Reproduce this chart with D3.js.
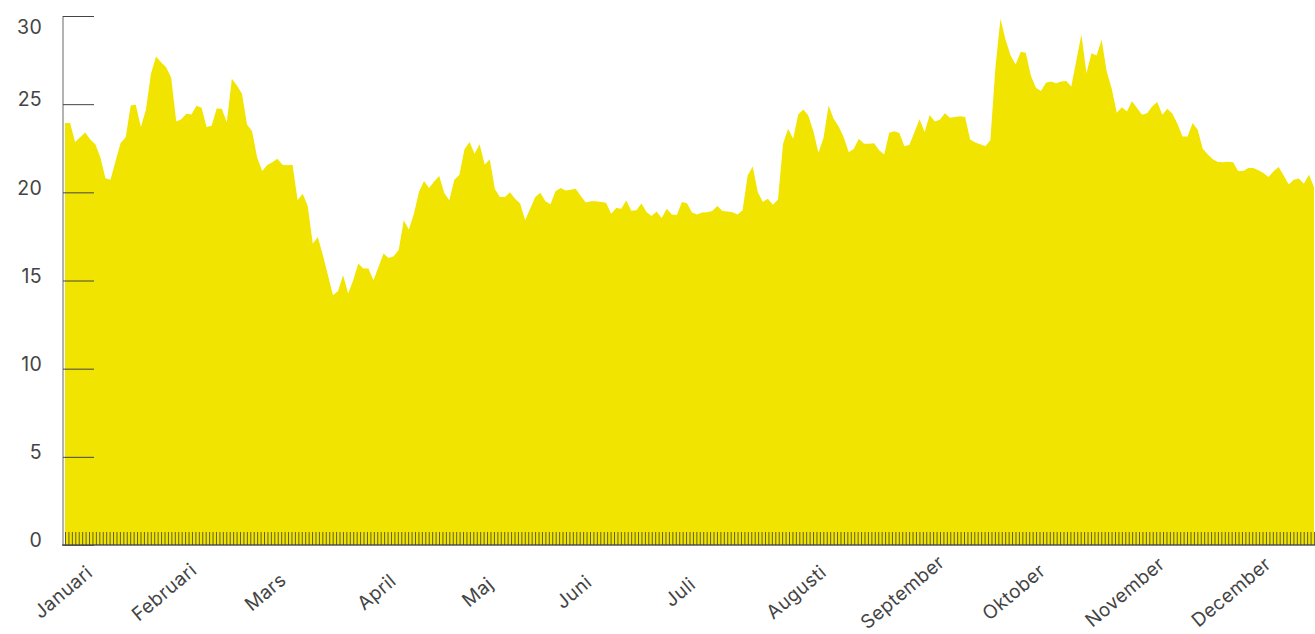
<!DOCTYPE html>
<html>
<head>
<meta charset="utf-8">
<script src="https://cdn.jsdelivr.net/npm/d3@7"></script>
<style>
    body { margin: 0; background: #fff; }
    svg text { font-family: Inter, "Noto Sans", sans-serif; fill: #444; }
</style>
</head>
<body>
<div id="chart"></div>
<script>

// one value per trading day
var values = [
    23.93, 23.93, 22.85, 23.13, 23.40, 23.00, 22.72, 21.97, 20.80, 20.72,
    21.77, 22.80, 23.13, 24.93, 24.97, 23.70, 24.68, 26.72, 27.70, 27.38,
    27.10, 26.50, 24.02, 24.15, 24.46, 24.42, 24.91, 24.80, 23.70, 23.78,
    24.76, 24.74, 23.98, 26.44, 26.06, 25.59, 23.85, 23.47, 21.97, 21.21,
    21.55, 21.70, 21.91, 21.57, 21.53, 21.57, 19.55, 19.92, 19.23, 17.09,
    17.47, 16.43, 15.30, 14.16, 14.41, 15.30, 14.26, 15.01, 15.96, 15.68,
    15.68, 15.01, 15.77, 16.53, 16.28, 16.37, 16.75, 18.41, 17.89, 18.79,
    20.02, 20.64, 20.25, 20.62, 20.92, 19.96, 19.55, 20.72, 21.00, 22.44,
    22.85, 22.19, 22.72, 21.57, 21.87, 20.21, 19.73, 19.73, 20.00, 19.64,
    19.36, 18.41, 19.08, 19.73, 19.98, 19.49, 19.32, 20.06, 20.25, 20.11,
    20.15, 20.21, 19.79, 19.43, 19.49, 19.49, 19.45, 19.41, 18.79, 19.11,
    19.07, 19.53, 18.96, 18.98, 19.36, 18.88, 18.66, 18.92, 18.54, 19.07,
    18.75, 18.71, 19.45, 19.38, 18.85, 18.74, 18.85, 18.87, 18.94, 19.23,
    18.94, 18.92, 18.87, 18.75, 18.98, 20.96, 21.47, 20.02, 19.45, 19.64,
    19.30, 19.60, 22.76, 23.61, 23.04, 24.42, 24.70, 24.36, 23.46, 22.25,
    23.08, 24.93, 24.17, 23.74, 23.13, 22.28, 22.47, 23.04, 22.76, 22.76,
    22.79, 22.38, 22.15, 23.38, 23.46, 23.36, 22.61, 22.70, 23.42, 24.14,
    23.42, 24.38, 24.02, 24.12, 24.49, 24.23, 24.27, 24.31, 24.27, 22.99,
    22.83, 22.72, 22.61, 22.95, 27.10, 29.84, 28.65, 27.76, 27.25, 27.97,
    27.91, 26.63, 25.93, 25.74, 26.22, 26.29, 26.19, 26.29, 26.31, 26.00,
    27.48, 28.95, 26.76, 27.89, 27.76, 28.65, 26.87, 25.87, 24.51, 24.83,
    24.59, 25.16, 24.78, 24.40, 24.49, 24.87, 25.12, 24.40, 24.74, 24.46,
    23.89, 23.17, 23.17, 23.93, 23.55, 22.47, 22.14, 21.87, 21.72, 21.70,
    21.74, 21.70, 21.21, 21.21, 21.38, 21.38, 21.25, 21.10, 20.87, 21.19,
    21.43, 20.96, 20.44, 20.72, 20.78, 20.49, 21.00, 20.30
];

var months = ["Januari", "Februari", "Mars", "April", "Maj", "Juni",
    "Juli", "Augusti", "September", "Oktober", "November", "December"];

// index of the first trading day in each month
var monthStart = [0, 20, 40, 62, 82, 101, 122, 145, 166, 188, 210, 231];

var yTicks = [0, 5, 10, 15, 20, 25, 30];

var width = 1315,
    height = 634;

var svg = d3.select("#chart").append("svg")
    .attr("width", width)
    .attr("height", height);

var x = d3.scaleLinear()
    .domain([0, values.length - 1])
    .range([65, 1314]);

var y = d3.scaleLinear()
    .domain([0, 30])
    .range([545, 16]);

// calendar days for the small ticks along the bottom
var day = d3.scaleTime()
    .domain([new Date(2019, 0, 1), new Date(2019, 11, 31)])
    .range([65, 1314]);

var area = d3.area()
    .x(function(d, i) { return x(i); })
    .y0(y(0))
    .y1(function(d) { return y(d); });

svg.append("path")
    .datum(values)
    .attr("d", area)
    .attr("fill", "#f0e400");

// y axis
var yAxis = svg.append("g")
    .attr("transform", "translate(63,0)")
    .call(d3.axisRight(y).tickValues(yTicks).tickSize(31).tickFormat(""));

yAxis.select(".domain")
    .attr("stroke", "#666")
    .attr("d", "M0," + y(30) + "V" + y(0));

yAxis.selectAll(".tick line")
    .attr("stroke", "#444");

svg.append("g")
    .selectAll("text")
    .data(yTicks)
    .enter().append("text")
    .attr("x", 42)
    .attr("y", function(d) { return d == 30 ? y(d) + 11.5 : y(d) - 4.5; })
    .attr("dy", "0.35em")
    .attr("text-anchor", "end")
    .style("font-size", "19.5px")
    .style("letter-spacing", "0.3px")
    .text(function(d) { return d; });

// x axis with daily ticks
var xAxis = svg.append("g")
    .attr("transform", "translate(0,545)")
    .call(d3.axisTop(day).ticks(d3.timeDay.every(1)).tickSize(13).tickFormat(""));

xAxis.select(".domain")
    .attr("stroke", "#555")
    .attr("stroke-width", 1.5)
    .attr("d", "M62,0H1315");

xAxis.selectAll(".tick line")
    .attr("stroke", "#333")
    .attr("stroke-opacity", 0.75);

svg.append("g")
    .selectAll("text")
    .data(months)
    .enter().append("text")
    .attr("transform", function(d, i) {
        return "translate(" + (x(monthStart[i]) - 2) + ",592) rotate(-40)";
    })
    .attr("dy", "0.35em")
    .attr("text-anchor", "middle")
    .style("font-size", "19px")
    .style("letter-spacing", "0.4px")
    .text(function(d) { return d; });

</script>
</body>
</html>
